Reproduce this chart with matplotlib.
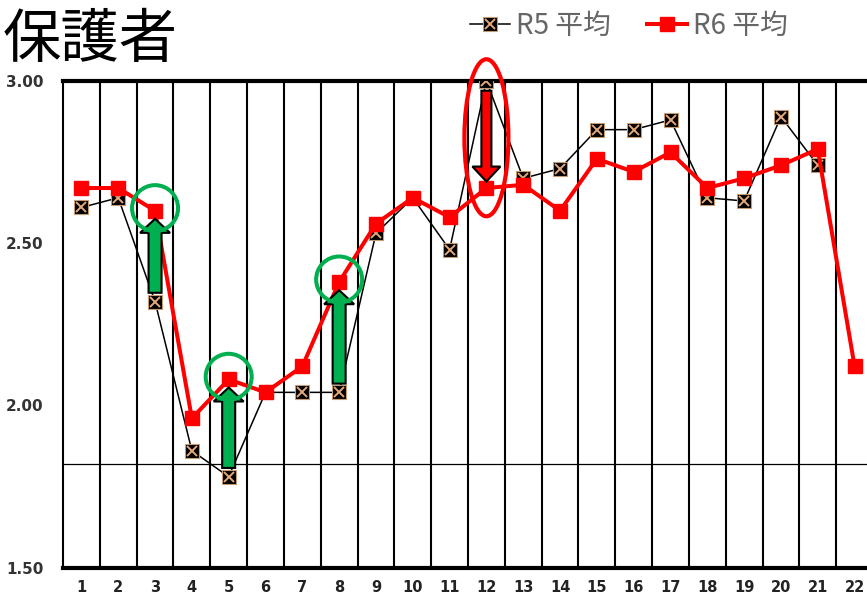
import matplotlib
matplotlib.use('Agg')
import matplotlib.pyplot as plt
from matplotlib.patches import Ellipse, FancyArrow
from matplotlib.legend_handler import HandlerTuple
import numpy as np

plt.rcParams['font.family'] = ['Noto Sans CJK JP', 'DejaVu Sans']

# ---- data ----
categories = list(range(1, 23))
r5 = [2.61, 2.64, 2.32, 1.86, 1.78, 2.04, 2.04, 2.04, 2.53, 2.64, 2.48, 3.00,
      2.70, 2.73, 2.85, 2.85, 2.88, 2.64, 2.63, 2.89, 2.74, np.nan]
r6 = [2.67, 2.67, 2.60, 1.96, 2.08, 2.04, 2.12, 2.38, 2.56, 2.64, 2.58, 2.67,
      2.68, 2.60, 2.76, 2.72, 2.78, 2.67, 2.70, 2.74, 2.79, 2.12]
y_ticks = [1.50, 2.00, 2.50, 3.00]
ref_line = 1.82
up_items = [3, 5, 8]
down_items = [12]
title = '保護者'
series_labels = ['R5 平均', 'R6 平均']

# ---- figure ----
W, H = 867, 596
fig = plt.figure(figsize=(W / 100, H / 100), dpi=100)
ax = fig.add_axes([63 / W, (H - 567.5) / H, 810 / W, 486.5 / H])
ax.set_xlim(0.5, 22.5)
ax.set_ylim(1.5, 3.0)

# grid
ax.set_xticks(categories)
ax.set_xticks(np.arange(1.5, 22.5, 1.0), minor=True)
ax.grid(which='minor', axis='x', color='black', lw=1.5, zorder=0)
ax.tick_params(axis='x', which='minor', length=0)
ax.axhline(ref_line, color='black', lw=0.9, zorder=0)

ax.set_yticks(y_ticks)
ax.set_yticklabels([f'{v:.2f}' for v in y_ticks], fontsize=11, fontweight='bold',
                   color='#333333', family=['DejaVu Sans'])
ax.set_xticklabels([str(c) for c in categories], fontsize=10.5, fontweight='bold',
                   color='#222222', family=['DejaVu Sans'])
ax.tick_params(axis='y', length=0, pad=14)
ax.tick_params(axis='x', which='major', length=0, pad=9)

for s in ['top', 'bottom']:
    ax.spines[s].set_linewidth(3)
    ax.spines[s].set_color('black')
ax.spines['left'].set_linewidth(1.5)
ax.spines['right'].set_visible(False)

# ---- series ----
x = np.array(categories)
l5a, = ax.plot(x, r5, color='black', lw=1.1, marker='s', markersize=9.5,
               markerfacecolor='black', markeredgecolor='#C89A70', markeredgewidth=0.8,
               zorder=3)
l5b, = ax.plot(x, r5, ls='none', marker='x', markersize=7, color='#E3A878',
               markeredgewidth=1.4, zorder=3.1)
l6, = ax.plot(x, r6, color='#FF0000', lw=2.9, marker='s', markersize=10.5,
              markerfacecolor='#FF0000', markeredgecolor='#FF0000', zorder=4)

# ---- annotations ----
px_x = 36.83  # pixels per category
px_y = 324.3  # pixels per unit
for c in up_items:
    i = c - 1
    tail = r5[i] + 0.027
    tip = r6[i] - 0.025
    ax.add_patch(FancyArrow(c, tail, 0, tip - tail, width=13 / px_x,
                            head_width=30 / px_x, head_length=14 / px_y,
                            length_includes_head=True, facecolor='#00B050',
                            edgecolor='black', lw=1.5, zorder=6))
    ax.add_patch(Ellipse((c, r6[i] + 0.008), width=46 / px_x, height=46 / px_y,
                         fill=False, edgecolor='#00B050', lw=2.9, zorder=7))
for c in down_items:
    i = c - 1
    tail = r5[i] - 0.03
    tip = r6[i] + 0.02
    ax.add_patch(FancyArrow(c, tail, 0, tip - tail, width=10 / px_x,
                            head_width=28 / px_x, head_length=15 / px_y,
                            length_includes_head=True, facecolor='#FF0000',
                            edgecolor='black', lw=1.5, zorder=6))
    ax.add_patch(Ellipse((c, (r5[i] + r6[i]) / 2 - 0.01), width=44 / px_x,
                         height=157 / px_y, fill=False, edgecolor='#FF0000',
                         lw=3, zorder=7, clip_on=False))

# ---- title & legend ----
fig.text(3 / W, 1 - 40 / H, title, fontsize=42, va='center', ha='left',
         color='black')

leg = fig.legend([(l5a, l5b), l6], series_labels, loc='center left',
                 bbox_to_anchor=(470 / W, 1 - 26 / H), ncol=2, frameon=False,
                 fontsize=20, handlelength=1.45, handletextpad=0.2,
                 columnspacing=1.3, borderpad=0, borderaxespad=0,
                 labelcolor='#666666',
                 handler_map={tuple: HandlerTuple(ndivide=1)})

fig.savefig('out.png', dpi=100)
